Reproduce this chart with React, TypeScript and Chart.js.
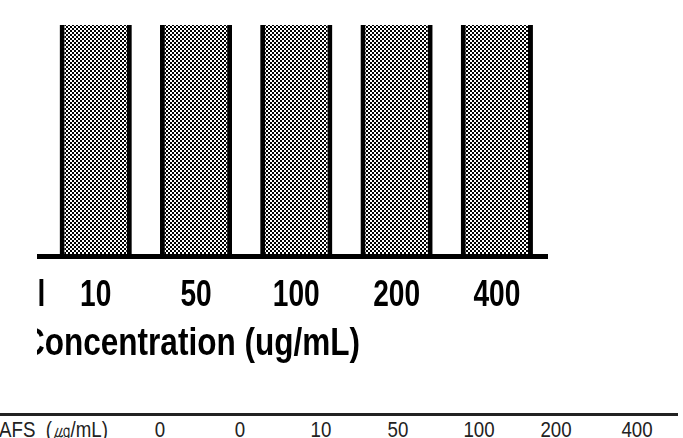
import React, { useEffect, useRef } from "react";
import { Chart, registerables } from "chart.js";

Chart.register(...registerables);

// Treatment groups on the x axis and the measured response of each group
const groups = ["Normal", "Control", "10", "50", "100", "200", "400"];
const response = [100, 100, 100, 100, 100, 100, 100];
const axisTitle = "Concentration (ug/mL)";

// Dose row printed underneath the figure
const doseHeader = "AFS (㎍/mL)";
const doseValues = ["0", "0", "10", "50", "100", "200", "400"];

// Layout of the dose row (column centres in px)
const doseColumnX = [160, 240, 321, 398, 479, 556, 637];

const SANS = "'Liberation Sans', Arial, sans-serif";

function makeCheckerPattern(): CanvasPattern | string {
  const tile = document.createElement("canvas");
  tile.width = 4;
  tile.height = 4;
  const g = tile.getContext("2d");
  if (!g) return "#666";
  g.fillStyle = "#ffffff";
  g.fillRect(0, 0, 4, 4);
  g.fillStyle = "#000000";
  g.fillRect(0, 0, 2, 2);
  g.fillRect(2, 2, 2, 2);
  const ctx = document.createElement("canvas").getContext("2d");
  return (ctx && ctx.createPattern(tile, "repeat")) || "#666";
}

// Draws the category labels and the axis title in a condensed bold face
// (text is squeezed horizontally, like a narrow typeface).
const condensedAxisText = {
  id: "condensedAxisText",
  afterDraw(chart: any) {
    const { ctx, chartArea } = chart;
    const xScale = chart.scales.x;
    ctx.save();
    ctx.fillStyle = "#000000";
    ctx.textAlign = "center";
    ctx.textBaseline = "alphabetic";

    ctx.font = `bold 36px ${SANS}`;
    const labels = chart.data.labels as string[];
    labels.forEach((label, i) => {
      ctx.save();
      ctx.translate(xScale.getPixelForTick(i), chartArea.bottom + 50);
      ctx.scale(0.78, 1);
      ctx.fillText(label, 0, 0);
      ctx.restore();
    });

    ctx.font = `bold 38px ${SANS}`;
    ctx.save();
    ctx.translate((xScale.left + xScale.right) / 2 - 5, chartArea.bottom + 99);
    ctx.scale(0.83, 1);
    ctx.fillText(axisTitle, 0, 0);
    ctx.restore();

    ctx.restore();
  },
};

function BarFigure() {
  const canvasRef = useRef<HTMLCanvasElement | null>(null);

  useEffect(() => {
    const canvas = canvasRef.current;
    if (!canvas) return;
    const chart = new Chart(canvas, {
      type: "bar",
      data: {
        labels: groups,
        datasets: [
          {
            data: response,
            backgroundColor: makeCheckerPattern() as any,
            borderColor: "#000000",
            borderWidth: { left: 5, right: 5, top: 0, bottom: 0 },
            borderSkipped: false,
            categoryPercentage: 1,
            barPercentage: 0.72,
          },
        ],
      },
      options: {
        animation: false,
        responsive: false,
        events: [],
        layout: { padding: { left: 5, right: 13, top: 25, bottom: 0 } },
        plugins: {
          legend: { display: false },
          tooltip: { enabled: false },
          title: { display: false },
        },
        scales: {
          x: {
            grid: { display: false, drawTicks: false },
            border: { display: true, color: "#000000", width: 5, z: 1 },
            ticks: { display: false },
            afterFit: (scale: any) => {
              scale.height = 144;
            },
          },
          y: {
            display: false,
            min: 0,
            max: 100,
          },
        },
      },
      plugins: [condensedAxisText],
    });
    return () => chart.destroy();
  }, []);

  return (
    <div
      style={{
        position: "absolute",
        left: 37,
        top: 0,
        width: 646,
        height: 400,
        overflow: "hidden",
      }}
    >
      <canvas
        ref={canvasRef}
        width={720}
        height={400}
        style={{ position: "absolute", left: -197, top: 0, width: 720, height: 400 }}
      />
    </div>
  );
}

function DoseRow() {
  const text: React.CSSProperties = {
    position: "absolute",
    top: 419,
    fontFamily: SANS,
    fontSize: 22,
    lineHeight: "22px",
    color: "#222",
    whiteSpace: "nowrap",
  };
  return (
    <>
      <div
        style={{
          position: "absolute",
          left: 0,
          top: 413,
          width: 678,
          height: 3,
          background: "#222",
        }}
      />
      <span
        style={{
          ...text,
          left: -1,
          wordSpacing: 6,
          transform: "scaleX(0.85)",
          transformOrigin: "left center",
        }}
      >
        {doseHeader}
      </span>
      {doseValues.map((v, i) => (
        <span
          key={i}
          style={{
            ...text,
            left: doseColumnX[i],
            transform: "translateX(-50%) scaleX(0.85)",
          }}
        >
          {v}
        </span>
      ))}
    </>
  );
}

export default function App() {
  return (
    <div
      style={{
        position: "fixed",
        left: 0,
        top: 0,
        width: 683,
        height: 438,
        overflow: "hidden",
        background: "#ffffff",
      }}
    >
      <BarFigure />
      <DoseRow />
    </div>
  );
}
